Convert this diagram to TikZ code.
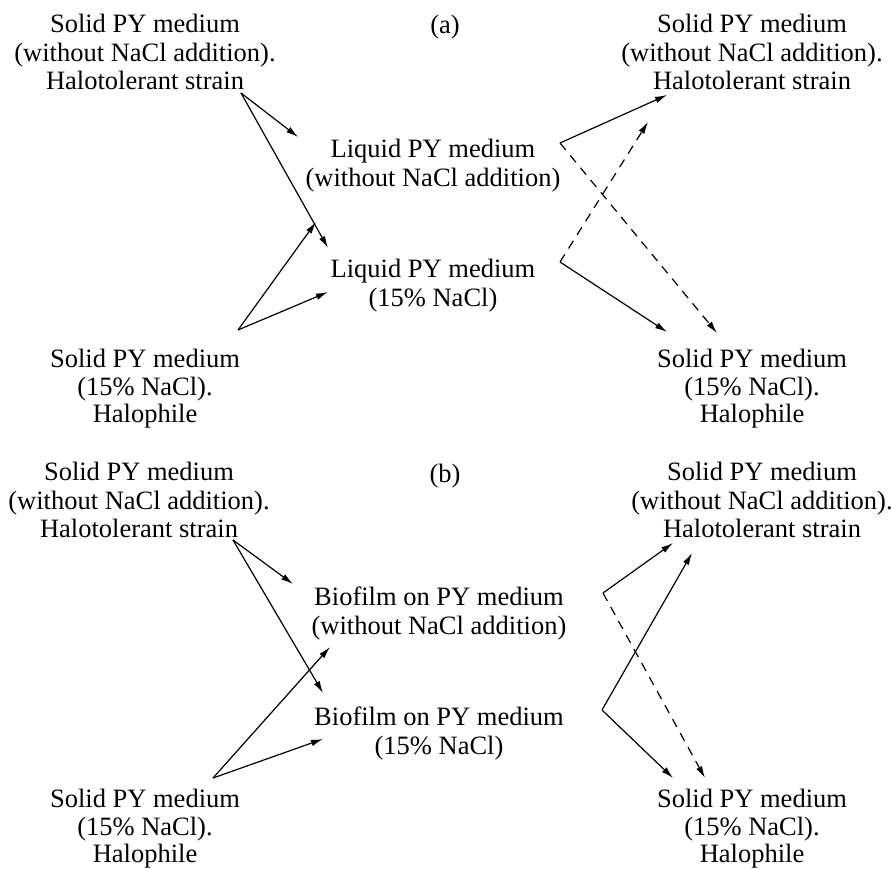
\documentclass[tikz,border=0pt]{standalone}
\usepackage{fontspec}
\setmainfont{Liberation Serif}
\usetikzlibrary{arrows.meta}

\begin{document}
\begin{tikzpicture}[x=1pt,y=-1pt,
    every node/.style={align=center,inner sep=0,anchor=north,font=\fontsize{26.5}{28.5}\selectfont},
    low/.style={font=\fontsize{26.5}{27.5}\selectfont},
    arr/.style={line width=1.2pt,-{Latex[length=12pt,width=6.5pt]}},
    darr/.style={arr,dash pattern=on 9pt off 7pt}]
        \useasboundingbox (0,0) rectangle (891,869);
        % (a)
        \node (la) at (445,15) {(a)};
        \node (tl) at (145,14) {Solid PY medium\\(without NaCl addition).\\Halotolerant strain};
        \node (tr) at (752,14) {Solid PY medium\\(without NaCl addition).\\Halotolerant strain};
        \node (mu) at (433,139) {Liquid PY medium\\(without NaCl addition)};
        \node (ml) at (433,259) {Liquid PY medium\\(15\% NaCl)};
        \node[low] (bl) at (145,349) {Solid PY medium\\(15\% NaCl).\\Halophile};
        \node[low] (br) at (752,349) {Solid PY medium\\(15\% NaCl).\\Halophile};
        \coordinate (tl-o) at (241,93);
        \coordinate (bl-o) at (238,330);
        \coordinate (mu-o) at (560,143);
        \coordinate (ml-o) at (560,262);
        \coordinate (mu-i) at (298,137);
        \coordinate (ml-i) at (328,248);
        \coordinate (mu-j) at (316,222);
        \coordinate (ml-j) at (328,292);
        \coordinate (tr-i) at (667,95);
        \coordinate (tr-j) at (648,122);
        \coordinate (br-i) at (667,332);
        \coordinate (br-j) at (717,333);
        \draw[arr] (tl-o) -- (mu-i);
        \draw[arr] (tl-o) -- (ml-i);
        \draw[arr] (bl-o) -- (mu-j);
        \draw[arr] (bl-o) -- (ml-j);
        \draw[arr] (mu-o) -- (tr-i);
        \draw[darr] (mu-o) -- (br-j);
        \draw[arr] (ml-o) -- (br-i);
        \draw[darr] (ml-o) -- (tr-j);
        % (b)
        \node (lb) at (445,464) {(b)};
        \node (btl) at (139,462) {Solid PY medium\\(without NaCl addition).\\Halotolerant strain};
        \node (btr) at (762,462) {Solid PY medium\\(without NaCl addition).\\Halotolerant strain};
        \node (bmu) at (439,587) {Biofilm on PY medium\\(without NaCl addition)};
        \node (bml) at (439,707) {Biofilm on PY medium\\(15\% NaCl)};
        \node[low] (bbl) at (145,789) {Solid PY medium\\(15\% NaCl).\\Halophile};
        \node[low] (bbr) at (752,789) {Solid PY medium\\(15\% NaCl).\\Halophile};
        \coordinate (btl-o) at (233,540);
        \coordinate (bbl-o) at (213,778);
        \coordinate (bmu-o) at (603,593);
        \coordinate (bml-o) at (602,710);
        \coordinate (bmu-i) at (293,584);
        \coordinate (bml-i) at (323,693);
        \coordinate (bmu-j) at (330,647);
        \coordinate (bml-j) at (323,739);
        \coordinate (btr-i) at (673,543);
        \coordinate (btr-j) at (692,553);
        \coordinate (bbr-i) at (673,778);
        \coordinate (bbr-j) at (705,778);
        \draw[arr] (btl-o) -- (bmu-i);
        \draw[arr] (btl-o) -- (bml-i);
        \draw[arr] (bbl-o) -- (bmu-j);
        \draw[arr] (bbl-o) -- (bml-j);
        \draw[arr] (bmu-o) -- (btr-i);
        \draw[darr] (bmu-o) -- (bbr-j);
        \draw[arr] (bml-o) -- (btr-j);
        \draw[arr] (bml-o) -- (bbr-i);
      \end{tikzpicture}
\end{document}
